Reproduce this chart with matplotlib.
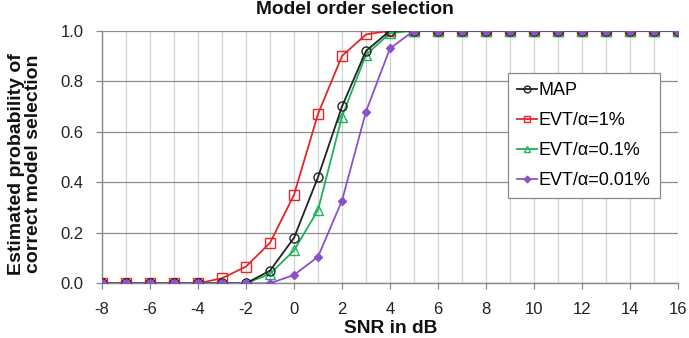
import matplotlib
matplotlib.use("Agg")
import matplotlib.pyplot as plt
from matplotlib.ticker import MultipleLocator

plt.rcParams['font.family'] = ['Liberation Sans', 'DejaVu Sans']
plt.rcParams['axes.unicode_minus'] = False

snr = list(range(-8, 17))
map_vals = [0, 0, 0, 0, 0, 0, 0.0, 0.05, 0.18, 0.42, 0.70, 0.92, 1.0, 1, 1, 1, 1, 1, 1, 1, 1, 1, 1, 1, 1]
evt1 = [0, 0, 0, 0, 0, 0.02, 0.066, 0.16, 0.35, 0.67, 0.90, 0.985, 1.0, 1, 1, 1, 1, 1, 1, 1, 1, 1, 1, 1, 1]
evt01 = [0, 0, 0, 0, 0, 0, 0.0, 0.037, 0.13, 0.29, 0.66, 0.905, 0.99, 1, 1, 1, 1, 1, 1, 1, 1, 1, 1, 1, 1]
evt001 = [0, 0, 0, 0, 0, 0, 0, 0.0, 0.033, 0.105, 0.327, 0.68, 0.93, 1, 1, 1, 1, 1, 1, 1, 1, 1, 1, 1, 1]
yticks = [0.0, 0.2, 0.4, 0.6, 0.8, 1.0]

W, H = 689, 338
fig = plt.figure(figsize=(W / 100, H / 100), dpi=100)
ax = fig.add_axes([102 / W, 1 - 283.3 / H, 576 / W, 252.6 / H])

ax.plot(snr, map_vals, color='#222222', marker='o', mfc='none', ms=6.5, lw=1.3, mew=1.0, label='MAP', zorder=5)
ax.plot(snr, evt1, color='#e3262b', marker='s', mfc='none', ms=6.5, lw=1.3, mew=1.0, label='EVT/α=1%', zorder=4)
ax.plot(snr, evt01, color='#1fb25a', marker='^', mfc='none', ms=6.5, lw=1.3, mew=1.0, label='EVT/α=0.1%', zorder=4)
ax.plot(snr, evt001, color='#8a52c9', marker='D', mfc='#8a52c9', ms=4.5, lw=1.3, mew=1.0, label='EVT/α=0.01%', zorder=6)

ax.set_xlim(-8, 16)
ax.set_ylim(0, 1.0)
ax.xaxis.set_major_locator(MultipleLocator(2))
ax.xaxis.set_minor_locator(MultipleLocator(1))
ax.set_yticks(yticks)
ax.set_yticklabels([f"{v:.1f}" for v in yticks])
ax.grid(which='both', axis='x', color='#d4d4d4', lw=0.9)
ax.grid(which='major', axis='y', color='#8c8c8c', lw=0.9)
ax.set_axisbelow(True)
ax.tick_params(axis='both', labelsize=12, colors='#888888', labelcolor='#222222', length=4.5, width=0.9, pad=9)
ax.tick_params(which='minor', length=0)
for s in ['top', 'right']:
    ax.spines[s].set_visible(False)
for s in ['left', 'bottom']:
    ax.spines[s].set_color('#888888')
    ax.spines[s].set_linewidth(1.0)

fig.text(355 / W, 1 - 14.5 / H, 'Model order selection', fontsize=13.8, fontweight='bold',
         ha='center', va='baseline', color='#111111')
fig.text(391 / W, 1 - 333 / H, 'SNR in dB', fontsize=13.8, fontweight='bold',
         ha='center', va='baseline', color='#111111')
fig.text(25 / W, 1 - 164 / H, 'Estimated probability of\ncorrect model selection', fontsize=14,
         fontweight='bold', rotation=90, ha='center', va='center', multialignment='center',
         linespacing=1.0, color='#111111')

leg = ax.legend(loc='upper left', bbox_to_anchor=((508 - 102) / 576, (283.3 - 73) / 252.6),
                fontsize=13, frameon=True, fancybox=False, edgecolor='#888888', framealpha=1,
                handlelength=1.1, handletextpad=0.1, borderpad=0.5, labelspacing=0.72,
                markerscale=0.75, borderaxespad=0)
leg.get_frame().set_linewidth(0.9)

fig.savefig('out.png', dpi=100)
